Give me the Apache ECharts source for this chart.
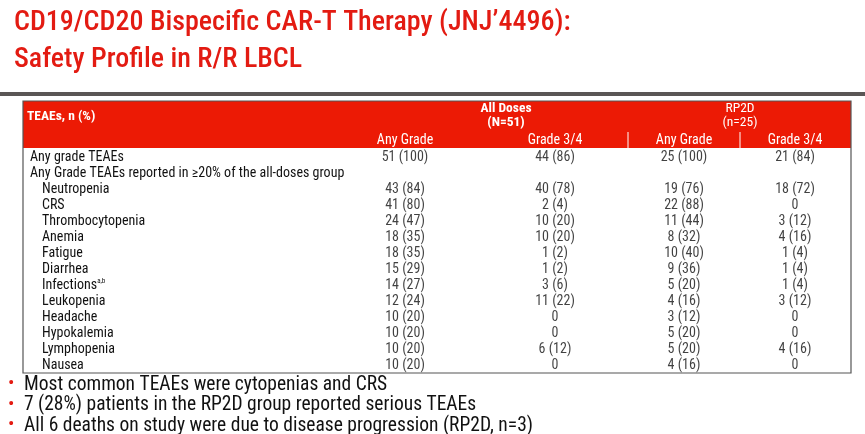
<!DOCTYPE html><html><head><meta charset="utf-8"><script src="https://cdn.jsdelivr.net/npm/echarts@6/dist/echarts.min.js"></script>
<style>html,body{margin:0;background:#fff}#c{width:865px;height:434px}</style></head><body><div id="c"></div><script>
const rowLabels=['Any grade TEAEs','Any Grade TEAEs reported in ≥20% of the all-doses group','Neutropenia','CRS','Thrombocytopenia','Anemia','Fatigue','Diarrhea','Infections','Leukopenia','Headache','Hypokalemia','Lymphopenia','Nausea'];
const allAny=['51 (100)','','43 (84)','41 (80)','24 (47)','18 (35)','18 (35)','15 (29)','14 (27)','12 (24)','10 (20)','10 (20)','10 (20)','10 (20)'];
const all34=['44 (86)','','40 (78)','2 (4)','10 (20)','10 (20)','1 (2)','1 (2)','3 (6)','11 (22)','0','0','6 (12)','0'];
const rpAny=['25 (100)','','19 (76)','22 (88)','11 (44)','8 (32)','10 (40)','9 (36)','5 (20)','4 (16)','3 (12)','5 (20)','5 (20)','4 (16)'];
const rp34=['21 (84)','','18 (72)','0','3 (12)','4 (16)','1 (4)','1 (4)','1 (4)','3 (12)','0','0','4 (16)','0'];
const colHeads=['Any Grade','Grade 3/4','Any Grade','Grade 3/4'];
const bullets=['Most common TEAEs were cytopenias and CRS','7 (28%) patients in the RP2D group reported serious TEAEs','All 6 deaths on study were due to disease progression (RP2D, n=3)'];
const F='"Liberation Sans Narrow","Roboto Condensed",Roboto,sans-serif';
const colX=[382,532,661,772];
const cols=[allAny,all34,rpAny,rp34];
const series=cols.map((arr,ci)=>({type:'scatter',symbolSize:0,silent:true,
 data:arr.map((v,ri)=>({value:[colX[ci],rowLabels[ri]],txt:v})),
 label:{show:true,position:'inside',color:'#111',fontFamily:F,fontSize:14,formatter:p=>p.data.txt}}));
const ch=echarts.init(document.getElementById('c'));
const g=[];
g.push({type:'text',left:14,top:4,style:{text:'CD19/CD20 Bispecific CAR-T Therapy (JNJ’4496):\nSafety Profile in R/R LBCL',fill:'#E31B12',font:'500 28px '+F,lineHeight:37}});
g.push({type:'rect',shape:{x:0,y:92,width:865,height:4},style:{fill:'#5a5655'}});
g.push({type:'rect',shape:{x:23,y:101,width:828,height:47},style:{fill:'#EC1A05'}});
g.push({type:'rect',shape:{x:23,y:101,width:828,height:272},style:{fill:'none',stroke:'#555',lineWidth:1.2}});
g.push({type:'text',left:27,top:110,style:{text:'TEAEs, n (%)',fill:'#fff',font:'bold 13.5px '+F}});
g.push({type:'text',x:506,y:102,style:{text:'All Doses\n(N=51)',fill:'#fff',font:'bold 13.5px '+F,align:'center',lineHeight:14}});
g.push({type:'text',x:740,y:102,style:{text:'RP2D\n(n=25)',fill:'#fff',font:'13.5px '+F,align:'center',lineHeight:14}});
colHeads.forEach((t,i)=>g.push({type:'text',x:colX[i]+23,y:133,style:{text:t,fill:'#fff',font:'14px '+F,align:'center'}}));
[628,740].forEach(x=>g.push({type:'line',shape:{x1:x,y1:132,x2:x,y2:148},style:{stroke:'#fff',lineWidth:1}}));
bullets.forEach((t,i)=>{g.push({type:'text',left:8,top:375+i*20.5,style:{text:'•',fill:'#E31B12',font:'19px '+F}});
 g.push({type:'text',left:24,top:375+i*20.5,style:{text:t,fill:'#111',font:'19.5px '+F}});});
ch.setOption({animation:false,
 grid:{left:23,right:14,top:149,height:224},
 xAxis:{type:'value',min:0,max:828,show:false},
 yAxis:{type:'category',data:rowLabels,inverse:true,axisLine:{show:false},axisTick:{show:false},
  axisLabel:{inside:true,interval:0,margin:7,color:'#111',fontFamily:F,fontSize:14,
   formatter:(v,i)=>i<2?v:(v==='Infections'?'{ind|}'+v+'{sup|a,b}':'{ind|}'+v),
   rich:{ind:{width:12},sup:{fontSize:7,verticalAlign:'top',padding:[0,0,6,0],fontFamily:F,color:'#111'}}}},
 graphic:g,series});
</script></body></html>
